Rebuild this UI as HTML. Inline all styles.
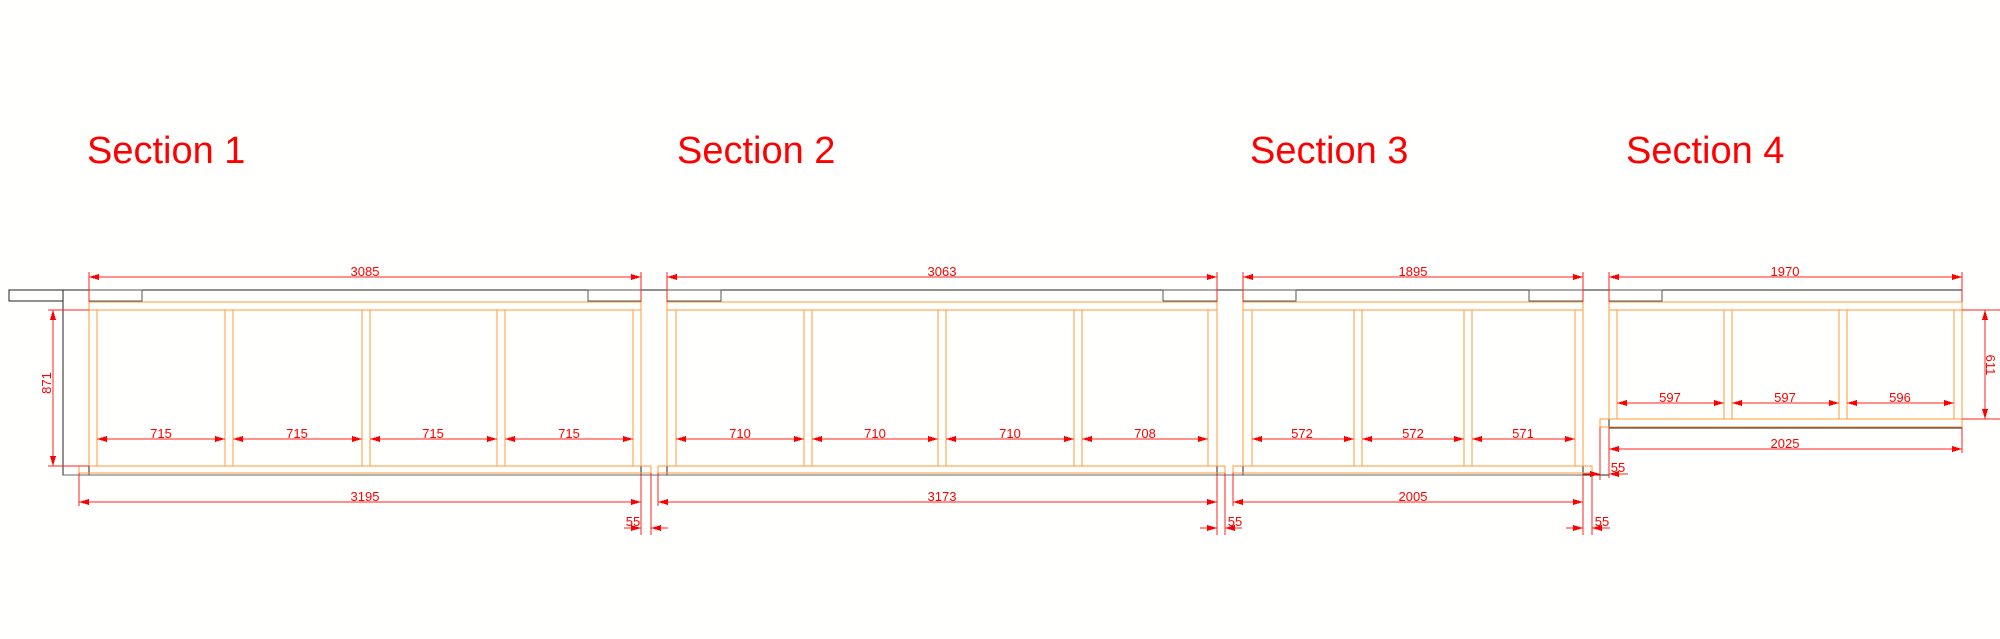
<!DOCTYPE html>
<html><head><meta charset="utf-8"><style>
html,body{margin:0;padding:0;background:#fffffd;}
svg{display:block;}
text{font-family:"Liberation Sans",sans-serif;fill:#ff0000;}
.t{font-size:38px;}
.d{font-size:13px;text-anchor:middle;}
.o{stroke:#ff9a3c;stroke-width:1.4;fill:none;}
.k{stroke:#222;stroke-width:1.4;fill:none;}
.r{stroke:#ff2020;stroke-width:1;fill:none;}
</style></head><body>
<svg width="2000" height="639" viewBox="0 0 2000 639" xmlns="http://www.w3.org/2000/svg" shape-rendering="crispEdges">
<defs>
<marker id="a" viewBox="0 0 10 6" refX="10" refY="3" markerWidth="10" markerHeight="6" orient="auto-start-reverse" markerUnits="userSpaceOnUse"><path d="M0,0L10,3L0,6z" fill="#ff0000"/></marker>
</defs>
<text class="t" x="87" y="163">Section 1</text>
<text class="t" x="677" y="163">Section 2</text>
<text class="t" x="1250" y="163">Section 3</text>
<text class="t" x="1626" y="163">Section 4</text>

<!-- black top structure -->
<g class="k">
<line x1="9" y1="290" x2="1962" y2="290"/>
<rect x="9" y="290" width="54" height="11"/>
<rect x="89" y="290" width="53" height="11" stroke="#555"/>
<rect x="588" y="290" width="53" height="11" stroke="#555"/>
<rect x="667" y="290" width="54" height="11" stroke="#555"/>
<rect x="1163" y="290" width="54" height="11" stroke="#555"/>
<rect x="1243" y="290" width="53" height="11" stroke="#555"/>
<rect x="1529" y="290" width="54" height="11" stroke="#555"/>
<rect x="1609" y="290" width="53" height="11" stroke="#555"/>
<line x1="1962" y1="290" x2="1962" y2="428"/>
<!-- posts -->
<rect x="63" y="290" width="26" height="185"/>
<rect x="641" y="290" width="26" height="185"/>
<rect x="1217" y="290" width="26" height="185"/>
<rect x="1583" y="290" width="26" height="185"/>
<line x1="63" y1="475" x2="1583" y2="475" stroke="#666"/>
<line x1="1609" y1="428" x2="1962" y2="428"/>
</g>

<!-- orange frames -->
<g class="o">
<!-- S1 -->
<rect x="89" y="302" width="552" height="8"/>
<line x1="89" y1="310" x2="89" y2="466"/><line x1="641" y1="310" x2="641" y2="466"/>
<line x1="97" y1="310" x2="97" y2="466"/><line x1="225" y1="310" x2="225" y2="466"/><line x1="233" y1="310" x2="233" y2="466"/><line x1="362" y1="310" x2="362" y2="466"/><line x1="370" y1="310" x2="370" y2="466"/><line x1="497" y1="310" x2="497" y2="466"/><line x1="505" y1="310" x2="505" y2="466"/><line x1="633" y1="310" x2="633" y2="466"/>
<line x1="89" y1="466" x2="641" y2="466"/>
<rect x="79" y="466" width="572" height="7"/>
<!-- S2 -->
<rect x="667" y="302" width="550" height="8"/>
<line x1="667" y1="310" x2="667" y2="466"/><line x1="1217" y1="310" x2="1217" y2="466"/>
<line x1="676" y1="310" x2="676" y2="466"/><line x1="804" y1="310" x2="804" y2="466"/><line x1="812" y1="310" x2="812" y2="466"/><line x1="938" y1="310" x2="938" y2="466"/><line x1="946" y1="310" x2="946" y2="466"/><line x1="1074" y1="310" x2="1074" y2="466"/><line x1="1082" y1="310" x2="1082" y2="466"/><line x1="1208" y1="310" x2="1208" y2="466"/>
<line x1="667" y1="466" x2="1217" y2="466"/>
<rect x="658" y="466" width="567" height="7"/>
<!-- S3 -->
<rect x="1243" y="302" width="340" height="8"/>
<line x1="1243" y1="310" x2="1243" y2="466"/><line x1="1583" y1="310" x2="1583" y2="466"/>
<line x1="1252" y1="310" x2="1252" y2="466"/><line x1="1354" y1="310" x2="1354" y2="466"/><line x1="1362" y1="310" x2="1362" y2="466"/><line x1="1464" y1="310" x2="1464" y2="466"/><line x1="1472" y1="310" x2="1472" y2="466"/><line x1="1575" y1="310" x2="1575" y2="466"/>
<line x1="1243" y1="466" x2="1583" y2="466"/>
<rect x="1233" y="466" width="359" height="7"/>
<!-- S4 -->
<rect x="1609" y="302" width="353" height="8"/>
<line x1="1609" y1="310" x2="1609" y2="419"/><line x1="1962" y1="310" x2="1962" y2="419"/>
<line x1="1617" y1="310" x2="1617" y2="419"/><line x1="1724" y1="310" x2="1724" y2="419"/><line x1="1732" y1="310" x2="1732" y2="419"/><line x1="1839" y1="310" x2="1839" y2="419"/><line x1="1847" y1="310" x2="1847" y2="419"/><line x1="1954" y1="310" x2="1954" y2="419"/>
<rect x="1600" y="419" width="362" height="8"/>
</g>

<!-- dimensions -->
<g class="r">
<!-- top overall -->
<line x1="89" y1="272" x2="89" y2="302"/><line x1="641" y1="272" x2="641" y2="302"/>
<line x1="89" y1="277" x2="641" y2="277" marker-start="url(#a)" marker-end="url(#a)"/>
<line x1="667" y1="272" x2="667" y2="302"/><line x1="1217" y1="272" x2="1217" y2="302"/>
<line x1="667" y1="277" x2="1217" y2="277" marker-start="url(#a)" marker-end="url(#a)"/>
<line x1="1243" y1="272" x2="1243" y2="302"/><line x1="1583" y1="272" x2="1583" y2="302"/>
<line x1="1243" y1="277" x2="1583" y2="277" marker-start="url(#a)" marker-end="url(#a)"/>
<line x1="1609" y1="272" x2="1609" y2="302"/><line x1="1962" y1="272" x2="1962" y2="302"/>
<line x1="1609" y1="277" x2="1962" y2="277" marker-start="url(#a)" marker-end="url(#a)"/>
<!-- 871 -->
<line x1="48" y1="310" x2="89" y2="310"/><line x1="48" y1="466" x2="89" y2="466"/>
<line x1="53" y1="310" x2="53" y2="466" marker-start="url(#a)" marker-end="url(#a)"/>
<!-- 611 -->
<line x1="1962" y1="310" x2="2000" y2="310"/><line x1="1962" y1="419" x2="2000" y2="419"/>
<line x1="1985" y1="310" x2="1985" y2="419" marker-start="url(#a)" marker-end="url(#a)"/>
<!-- inner widths -->
<line x1="97" y1="439" x2="225" y2="439" marker-start="url(#a)" marker-end="url(#a)"/>
<line x1="233" y1="439" x2="362" y2="439" marker-start="url(#a)" marker-end="url(#a)"/>
<line x1="370" y1="439" x2="497" y2="439" marker-start="url(#a)" marker-end="url(#a)"/>
<line x1="505" y1="439" x2="633" y2="439" marker-start="url(#a)" marker-end="url(#a)"/>
<line x1="676" y1="439" x2="804" y2="439" marker-start="url(#a)" marker-end="url(#a)"/>
<line x1="812" y1="439" x2="938" y2="439" marker-start="url(#a)" marker-end="url(#a)"/>
<line x1="946" y1="439" x2="1074" y2="439" marker-start="url(#a)" marker-end="url(#a)"/>
<line x1="1082" y1="439" x2="1208" y2="439" marker-start="url(#a)" marker-end="url(#a)"/>
<line x1="1252" y1="439" x2="1354" y2="439" marker-start="url(#a)" marker-end="url(#a)"/>
<line x1="1362" y1="439" x2="1464" y2="439" marker-start="url(#a)" marker-end="url(#a)"/>
<line x1="1472" y1="439" x2="1575" y2="439" marker-start="url(#a)" marker-end="url(#a)"/>
<line x1="1617" y1="403" x2="1724" y2="403" marker-start="url(#a)" marker-end="url(#a)"/>
<line x1="1732" y1="403" x2="1839" y2="403" marker-start="url(#a)" marker-end="url(#a)"/>
<line x1="1847" y1="403" x2="1954" y2="403" marker-start="url(#a)" marker-end="url(#a)"/>
<!-- bottom overall -->
<line x1="79" y1="473" x2="79" y2="506"/>
<line x1="79" y1="502" x2="641" y2="502" marker-start="url(#a)" marker-end="url(#a)"/>
<line x1="658" y1="473" x2="658" y2="506"/>
<line x1="658" y1="502" x2="1217" y2="502" marker-start="url(#a)" marker-end="url(#a)"/>
<line x1="1233" y1="473" x2="1233" y2="506"/>
<line x1="1233" y1="502" x2="1583" y2="502" marker-start="url(#a)" marker-end="url(#a)"/>
<line x1="1609" y1="428" x2="1609" y2="478"/><line x1="1962" y1="428" x2="1962" y2="453"/>
<line x1="1609" y1="449" x2="1962" y2="449" marker-start="url(#a)" marker-end="url(#a)"/>
<!-- 55s -->
<line x1="641" y1="475" x2="641" y2="535"/><line x1="651" y1="473" x2="651" y2="535"/>
<line x1="624" y1="528" x2="641" y2="528" marker-end="url(#a)"/><line x1="668" y1="528" x2="651" y2="528" marker-end="url(#a)"/>
<line x1="1217" y1="475" x2="1217" y2="535"/><line x1="1225" y1="473" x2="1225" y2="535"/>
<line x1="1200" y1="528" x2="1217" y2="528" marker-end="url(#a)"/><line x1="1242" y1="528" x2="1225" y2="528" marker-end="url(#a)"/>
<line x1="1583" y1="475" x2="1583" y2="535"/><line x1="1592" y1="473" x2="1592" y2="535"/>
<line x1="1566" y1="528" x2="1583" y2="528" marker-end="url(#a)"/><line x1="1610" y1="528" x2="1592" y2="528" marker-end="url(#a)"/>
<line x1="1600" y1="427" x2="1600" y2="480"/>
<line x1="1583" y1="474" x2="1600" y2="474" marker-end="url(#a)"/><line x1="1628" y1="474" x2="1609" y2="474" marker-end="url(#a)"/>
</g>

<g>
<text class="d" x="365" y="276">3085</text>
<text class="d" x="942" y="276">3063</text>
<text class="d" x="1413" y="276">1895</text>
<text class="d" x="1785" y="276">1970</text>
<text class="d" x="52" y="392" transform="rotate(-90 47 388)">871</text>
<text class="d" x="1990" y="369" transform="rotate(90 1990 365)">611</text>
<text class="d" x="161" y="438">715</text>
<text class="d" x="297" y="438">715</text>
<text class="d" x="433" y="438">715</text>
<text class="d" x="569" y="438">715</text>
<text class="d" x="740" y="438">710</text>
<text class="d" x="875" y="438">710</text>
<text class="d" x="1010" y="438">710</text>
<text class="d" x="1145" y="438">708</text>
<text class="d" x="1302" y="438">572</text>
<text class="d" x="1413" y="438">572</text>
<text class="d" x="1523" y="438">571</text>
<text class="d" x="1670" y="402">597</text>
<text class="d" x="1785" y="402">597</text>
<text class="d" x="1900" y="402">596</text>
<text class="d" x="365" y="501">3195</text>
<text class="d" x="942" y="501">3173</text>
<text class="d" x="1413" y="501">2005</text>
<text class="d" x="1785" y="448">2025</text>
<text class="d" x="633" y="526">55</text>
<text class="d" x="1235" y="526">55</text>
<text class="d" x="1602" y="526">55</text>
<text class="d" x="1618" y="472">55</text>
</g>
</svg>
</body></html>
